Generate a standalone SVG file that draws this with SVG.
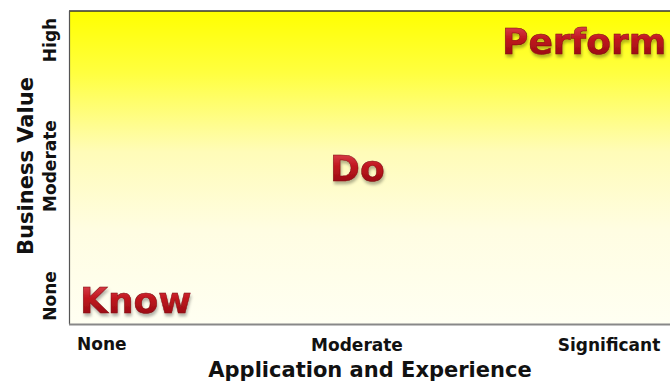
<svg xmlns="http://www.w3.org/2000/svg" width="670" height="381" viewBox="0 0 670 381">
  <defs>
    <linearGradient id="bg" x1="0" y1="0" x2="0" y2="1">
      <stop offset="0" stop-color="#ffff00"/>
      <stop offset="0.2" stop-color="#ffff40"/>
      <stop offset="0.45" stop-color="#fffcb8"/>
      <stop offset="0.7" stop-color="#fffde2"/>
      <stop offset="1" stop-color="#fffff2"/>
    </linearGradient>
    <linearGradient id="red" x1="0" y1="0" x2="0" y2="1">
      <stop offset="0" stop-color="#e25058"/>
      <stop offset="0.45" stop-color="#c0161e"/>
      <stop offset="1" stop-color="#8a0a10"/>
    </linearGradient>
    <filter id="shadow" x="-10%" y="-20%" width="120%" height="150%">
      <feDropShadow dx="1" dy="3" stdDeviation="1.5" flood-color="#000" flood-opacity="0.3"/>
    </filter>
    <style>
      .axis { font-family: "DejaVu Sans", "Liberation Sans", sans-serif; font-weight: bold; fill: #111; }
      .tick { font-size: 17px; }
      .title { font-size: 21px; }
      .big { font-family: "DejaVu Sans", "Liberation Sans", sans-serif; font-weight: bold; font-size: 36px; fill: url(#red); stroke: #7a0a10; stroke-width: 0.5; filter: url(#shadow); }
    </style>
  </defs>

  <g id="chart-area">
    <rect x="69" y="11" width="610" height="313" fill="url(#bg)"/>
    <line x1="69" y1="11" x2="670" y2="11" stroke="#333" stroke-width="1.5"/>
    <line x1="69.5" y1="11" x2="69.5" y2="324" stroke="#555" stroke-width="1.2"/>
    <line x1="69" y1="324.5" x2="670" y2="324.5" stroke="#888" stroke-width="2"/>
  </g>

  <g id="y-axis">
    <text class="axis title" transform="translate(33,166) rotate(-90)" text-anchor="middle">Business Value</text>
    <text class="axis tick" transform="translate(56,40) rotate(-90)" text-anchor="middle">High</text>
    <text class="axis tick" transform="translate(56,166) rotate(-90)" text-anchor="middle">Moderate</text>
    <text class="axis tick" transform="translate(56,296) rotate(-90)" text-anchor="middle">None</text>
  </g>

  <g id="x-axis">
    <text class="axis tick" x="77" y="350">None</text>
    <text class="axis tick" x="357" y="351" text-anchor="middle">Moderate</text>
    <text class="axis tick" x="609" y="351" text-anchor="middle">Significant</text>
    <text class="axis title" x="370" y="377" text-anchor="middle">Application and Experience</text>
  </g>

  <g id="node-know">
    <text class="big" x="80" y="313">Know</text>
  </g>
  <g id="node-do">
    <text class="big" x="330" y="181">Do</text>
  </g>
  <g id="node-perform">
    <text class="big" x="502" y="54">Perform</text>
  </g>
</svg>
